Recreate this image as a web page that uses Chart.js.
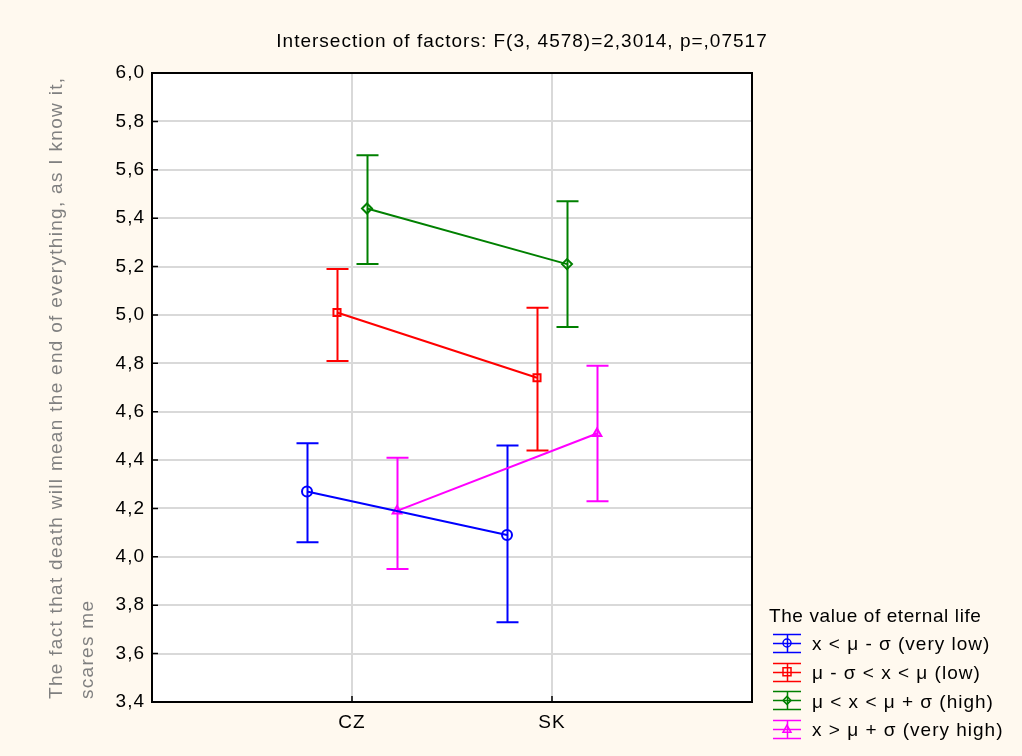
<!DOCTYPE html>
<html>
<head>
<meta charset="utf-8">
<script src="https://cdn.jsdelivr.net/npm/chart.js@4/dist/chart.umd.min.js"></script>
<style>
  html, body { margin: 0; padding: 0; background: #fff9ef; }
  #wrap { width: 1022px; height: 756px; }
</style>
</head>
<body>
<div id="wrap"><canvas id="chart" width="1022" height="756"></canvas></div>
<script>
const categories = ['CZ', 'SK'];
const groupLabels = [
    'x < μ - σ (very low)',
    'μ - σ < x < μ (low)',
    'μ < x < μ + σ (high)',
    'x > μ + σ (very high)'
];
const yTicks = [3.4, 3.6, 3.8, 4.0, 4.2, 4.4, 4.6, 4.8, 5.0, 5.2, 5.4, 5.6, 5.8, 6.0];

// means and 95% interval ends, per category (CZ, SK)
const meanVeryLow = [4.27, 4.09];
const lowerVeryLow = [4.06, 3.73];
const upperVeryLow = [4.47, 4.46];

const meanLow = [5.01, 4.74];
const lowerLow = [4.81, 4.44];
const upperLow = [5.19, 5.03];

const meanHigh = [5.44, 5.21];
const lowerHigh = [5.21, 4.95];
const upperHigh = [5.66, 5.47];

const meanVeryHigh = [4.19, 4.51];
const lowerVeryHigh = [3.95, 4.23];
const upperVeryHigh = [4.41, 4.79];

const chartTitle = 'Intersection of factors: F(3, 4578)=2,3014, p=,07517';
const yTitle = ['The fact that death will mean the end of everything, as I know it,', 'scares me'];
const legendTitle = 'The value of eternal life';

const colors = ['#0000ff', '#ff0000', '#008000', '#ff00ff'];
const markers = ['circle', 'rect', 'rectRot', 'triangle'];
const dodge = [-0.225, -0.075, 0.075, 0.225];
const FONT = '"Liberation Sans", Arial, sans-serif';

const groups = [
    { mean: meanVeryLow, lower: lowerVeryLow, upper: upperVeryLow },
    { mean: meanLow, lower: lowerLow, upper: upperLow },
    { mean: meanHigh, lower: lowerHigh, upper: upperHigh },
    { mean: meanVeryHigh, lower: lowerVeryHigh, upper: upperVeryHigh }
];

const datasets = groups.map((g, i) => ({
    label: groupLabels[i],
    data: categories.map((c, j) => ({ x: j + 1 + dodge[i], y: g.mean[j], lo: g.lower[j], hi: g.upper[j] })),
    borderColor: colors[i],
    backgroundColor: colors[i],
    borderWidth: 2,
    pointStyle: markers[i],
    pointRadius: 5,
    pointBorderWidth: 2,
    pointBackgroundColor: 'rgba(0,0,0,0)',
    pointBorderColor: colors[i],
    tension: 0
}));

function drawMarker(ctx, style, x, y, r) {
    ctx.beginPath();
    if (style === 'circle') {
        ctx.arc(x, y, r, 0, Math.PI * 2);
    } else if (style === 'rect') {
        ctx.rect(x - r, y - r, r * 2, r * 2);
    } else if (style === 'rectRot') {
        ctx.moveTo(x, y - r); ctx.lineTo(x + r, y); ctx.lineTo(x, y + r); ctx.lineTo(x - r, y); ctx.closePath();
    } else {
        ctx.moveTo(x, y - r); ctx.lineTo(x + r, y + r * 0.8); ctx.lineTo(x - r, y + r * 0.8); ctx.closePath();
    }
    ctx.stroke();
}

const decor = {
    id: 'decor',
    beforeDraw(chart) {
        const { ctx, chartArea: a } = chart;
        ctx.save();
        ctx.fillStyle = '#fff9ef';
        ctx.fillRect(0, 0, chart.width, chart.height);
        ctx.fillStyle = '#ffffff';
        ctx.fillRect(a.left, a.top, a.right - a.left, a.bottom - a.top);
        ctx.restore();
        // the original font is wider than Liberation Sans
        ctx.letterSpacing = '1px';
    },
    beforeDatasetsDraw(chart) {
        const { ctx, scales: { x, y } } = chart;
        ctx.save();
        ctx.lineWidth = 2;
        chart.data.datasets.forEach(ds => {
            ctx.strokeStyle = ds.borderColor;
            ds.data.forEach(p => {
                const px = Math.round(x.getPixelForValue(p.x)) + 0.5;
                const top = y.getPixelForValue(p.hi);
                const bot = y.getPixelForValue(p.lo);
                ctx.beginPath();
                ctx.moveTo(px, top); ctx.lineTo(px, bot);
                ctx.moveTo(px - 11, top); ctx.lineTo(px + 11, top);
                ctx.moveTo(px - 11, bot); ctx.lineTo(px + 11, bot);
                ctx.stroke();
            });
        });
        ctx.restore();
    },
    afterDraw(chart) {
        const { ctx, chartArea: a, scales: { x, y } } = chart;
        ctx.save();
        // inner tick marks
        ctx.strokeStyle = '#000';
        ctx.lineWidth = 1.5;
        ctx.beginPath();
        y.ticks.forEach(t => {
            const py = y.getPixelForValue(t.value);
            ctx.moveTo(a.left, py); ctx.lineTo(a.left + 6, py);
        });
        [1, 2].forEach(v => {
            const px = x.getPixelForValue(v);
            ctx.moveTo(px, a.bottom); ctx.lineTo(px, a.bottom - 6);
        });
        ctx.stroke();
        // frame
        ctx.lineWidth = 2;
        ctx.strokeRect(a.left, a.top, a.right - a.left, a.bottom - a.top);

        // title
        ctx.fillStyle = '#000';
        ctx.font = '19px ' + FONT;
        ctx.letterSpacing = '1px';
        ctx.textAlign = 'center';
        ctx.textBaseline = 'middle';
        ctx.fillText(chartTitle, 522, 42);

        // y axis title
        ctx.save();
        ctx.fillStyle = '#808080';
        ctx.letterSpacing = '1.3px';
        ctx.translate(57, 699);
        ctx.rotate(-Math.PI / 2);
        ctx.textAlign = 'left';
        ctx.fillText(yTitle[0], 0, 0);
        ctx.fillText(yTitle[1], 0, 31);
        ctx.restore();

        // legend
        ctx.textAlign = 'left';
        ctx.fillStyle = '#000';
        ctx.letterSpacing = '0.6px';
        ctx.fillText(legendTitle, 769, 617);
        ctx.letterSpacing = '1px';
        chart.data.datasets.forEach((ds, i) => {
            const cy = 643 + i * 28.7;
            const cx = 787;
            ctx.strokeStyle = ds.borderColor;
            ctx.lineWidth = 1.5;
            ctx.beginPath();
            [-9, 0, 9].forEach(d => {
                ctx.moveTo(773, Math.round(cy + d) + 0.5);
                ctx.lineTo(801, Math.round(cy + d) + 0.5);
            });
            ctx.moveTo(cx + 0.5, cy - 9); ctx.lineTo(cx + 0.5, cy + 9);
            ctx.stroke();
            drawMarker(ctx, markers[i], cx, cy, 4);
            ctx.fillStyle = '#000';
            ctx.fillText(ds.label, 812, cy + 2);
        });
        ctx.restore();
    }
};

new Chart(document.getElementById('chart'), {
    type: 'line',
    data: { datasets: datasets },
    options: {
        responsive: false,
        animation: false,
        layout: { padding: { top: 73, right: 270, bottom: 0, left: 0 } },
        plugins: {
            legend: { display: false },
            title: { display: false },
            tooltip: { enabled: false }
        },
        scales: {
            x: {
                type: 'linear',
                min: 0,
                max: 3,
                afterFit: scale => { scale.height = 54; },
                afterBuildTicks: scale => { scale.ticks = [0, 1, 2, 3].map(v => ({ value: v })); },
                ticks: {
                    color: '#000',
                    font: { family: FONT, size: 19 },
                    padding: 9,
                    callback: v => categories[v - 1] || ''
                },
                grid: { color: '#d9d9d9', lineWidth: 2, drawTicks: false },
                border: { display: false }
            },
            y: {
                type: 'linear',
                min: 3.4,
                max: 6.0,
                afterFit: scale => { scale.width = 152; },
                afterBuildTicks: scale => { scale.ticks = yTicks.map(v => ({ value: v })); },
                ticks: {
                    color: '#000',
                    font: { family: FONT, size: 19 },
                    padding: 7,
                    callback: v => v.toFixed(1).replace('.', ',')
                },
                grid: { color: '#d9d9d9', lineWidth: 2, drawTicks: false },
                border: { display: false }
            }
        }
    },
    plugins: [decor]
});
</script>
</body>
</html>
